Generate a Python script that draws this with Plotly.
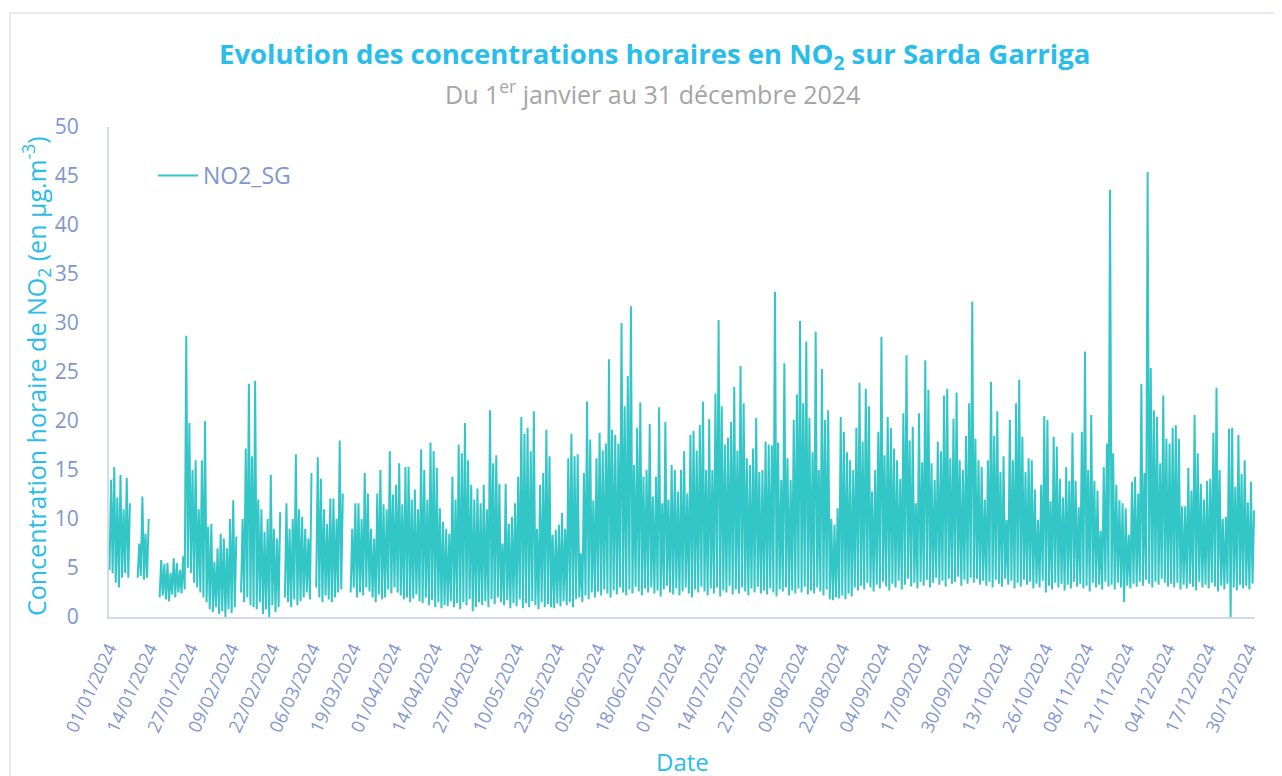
import pandas as pd
import plotly.graph_objects as go

TITLE = "Evolution des concentrations horaires en NO<sub>2</sub> sur Sarda Garriga"
SUBTITLE = "Du 1<sup>er</sup> janvier au 31 décembre 2024"
Y_TITLE = "Concentration horaire de NO<sub>2</sub> (en µg.m<sup>-3</sup>)"
X_TITLE = "Date"
SERIES_NAME = "NO2_SG"
START = "2024-01-01"
TICK_STEP_DAYS = 13
N_TICKS = 29
Y_TICKS = [0, 5, 10, 15, 20, 25, 30, 35, 40, 45, 50]

# Daily peak (max) and trough (min) of the hourly NO2 series
# (one entry per day from 01/01/2024 to 31/12/2024; None = missing data)
DAY_MAX = [
    14.0, 15.3, 12.2, 14.5, 11.0, 14.2, 11.6, None, None, 7.5,
    12.3, 8.5, 10.0, None, None, None, 5.8, 5.4, 5.5, 4.5,
    6.0, 5.5, 4.8, 6.2, 28.7, 19.8, 15.0, 16.0, 11.0, 16.0,
    20.0, 9.2, 9.5, 5.6, 7.0, 8.5, 8.0, 7.0, 10.0, 11.9,
    8.2, None, 10.0, 17.2, 23.8, 16.4, 24.1, 12.0, 11.0, 8.7,
    10.0, 14.5, 9.0, 8.0, 10.7, None, 11.6, 9.0, 10.0, 16.6,
    11.0, 10.2, 9.0, 8.0, 14.7, None, 16.3, 14.1, 11.0, 9.5,
    12.1, 12.1, 10.0, 18.0, 12.6, None, None, 9.0, 11.6, 11.6,
    10.0, 14.7, 12.6, 9.0, 8.0, 12.6, 15.0, 11.5, 11.0, 16.9,
    12.5, 13.5, 15.7, 11.5, 15.3, 15.3, 12.0, 13.0, 11.0, 17.1,
    15.0, 12.0, 17.8, 16.9, 15.2, 11.1, 9.7, 9.0, 8.5, 14.3,
    12.0, 17.6, 16.7, 19.8, 16.0, 13.5, 12.0, 13.1, 11.6, 13.5,
    11.0, 21.1, 15.7, 16.5, 13.6, 7.5, 13.6, 9.5, 10.2, 11.6,
    14.3, 20.4, 18.7, 19.3, 16.9, 21.0, 9.0, 13.5, 14.7, 19.1,
    16.4, 8.4, 8.9, 9.4, 10.6, 9.0, 16.2, 18.7, 16.4, 16.6,
    6.5, 14.7, 22.0, 18.1, 11.9, 16.2, 18.8, 17.0, 17.7, 26.3,
    19.1, 18.6, 17.7, 30.0, 21.5, 24.6, 31.7, 15.5, 19.3, 21.9,
    14.3, 15.0, 19.7, 12.3, 14.3, 21.4, 11.6, 19.9, 12.0, 15.5,
    15.0, 12.8, 15.0, 16.9, 12.6, 18.6, 19.0, 17.0, 19.6, 22.0,
    15.0, 20.2, 15.0, 22.8, 30.3, 21.5, 17.6, 18.3, 19.9, 23.5,
    17.0, 25.6, 21.8, 16.2, 15.5, 17.2, 20.3, 14.8, 15.0, 17.9,
    17.6, 17.5, 33.2, 17.8, 14.0, 25.9, 16.2, 14.0, 20.1, 22.7,
    30.2, 21.8, 28.1, 20.3, 16.8, 29.1, 15.0, 25.3, 20.1, 21.1,
    10.0, 9.4, 11.1, 20.4, 18.9, 16.8, 16.0, 15.0, 19.3, 23.9,
    17.9, 23.3, 21.5, 12.8, 15.0, 18.9, 28.6, 16.5, 20.4, 19.3,
    17.2, 16.0, 14.1, 20.8, 26.7, 18.0, 19.4, 11.6, 20.8, 15.8,
    26.2, 23.2, 15.7, 14.0, 17.9, 16.9, 22.6, 23.3, 16.2, 20.2,
    22.9, 16.0, 15.0, 18.5, 21.8, 32.2, 18.2, 16.0, 15.3, 12.0,
    16.0, 24.0, 18.5, 21.0, 14.8, 16.4, 9.9, 20.1, 16.0, 21.8,
    24.2, 18.4, 14.8, 16.2, 16.0, 13.0, 9.9, 13.5, 20.5, 20.1,
    11.8, 18.4, 17.4, 14.1, 12.2, 15.3, 13.9, 18.8, 13.9, 11.2,
    18.9, 27.1, 15.0, 20.6, 13.9, 12.9, 8.8, 15.3, 17.7, 43.6,
    16.7, 13.5, 11.9, 11.6, 11.1, 8.4, 13.8, 14.3, 12.6, 23.8,
    14.7, 45.4, 25.4, 21.1, 20.4, 15.7, 22.6, 18.2, 17.7, 19.3,
    19.6, 18.2, 11.3, 11.3, 15.2, 12.9, 20.6, 16.7, 13.6, 12.0,
    13.9, 14.1, 18.8, 23.4, 15.0, 10.0, 10.2, 19.2, 19.3, 13.3,
    18.6, 14.6, 16.0, 11.7, 13.8, 10.9,
]
DAY_MIN = [
    4.8, 4.5, 3.5, 3.0, 4.0, 4.5, 4.0, None, None, 4.0,
    4.2, 3.8, 4.0, None, None, None, 2.0, 2.2, 1.8, 1.6,
    2.3, 2.0, 2.5, 2.4, 2.8, 5.0, 4.5, 3.5, 3.0, 2.5,
    2.0, 1.5, 0.8, 0.5, 1.0, 0.3, 0.6, 0.0, 0.8, 0.4,
    1.0, None, 2.5, 1.5, 2.0, 1.2, 1.0, 0.8, 1.5, 0.3,
    0.8, 0.0, 1.2, 0.5, 1.0, None, 2.0, 1.5, 1.0, 1.8,
    1.2, 1.6, 2.0, 2.5, 1.8, None, 3.0, 2.0, 1.5, 2.2,
    1.8, 1.5, 2.0, 2.5, 2.8, None, None, 2.5, 3.0, 2.0,
    2.5, 2.2, 3.0, 2.6, 2.0, 1.5, 2.3, 1.8, 2.0, 2.8,
    2.4, 3.0, 2.5, 2.2, 1.8, 2.0, 1.5, 1.9, 2.3, 1.6,
    1.4, 2.0, 1.2, 1.7, 1.0, 1.5, 0.9, 1.2, 1.1, 1.6,
    1.0, 1.4, 0.8, 1.5, 1.2, 1.8, 0.6, 1.0, 1.5, 1.2,
    1.6, 1.0, 1.8, 1.3, 2.0, 1.5, 1.2, 1.7, 0.9, 1.4,
    1.1, 1.8, 0.9, 1.4, 1.0, 1.6, 1.2, 0.8, 1.5, 1.0,
    1.3, 1.0, 0.9, 1.4, 1.1, 1.6, 1.2, 1.5, 1.0, 1.8,
    2.0, 1.5, 2.2, 1.8, 2.5, 2.0, 2.6, 2.2, 2.8, 2.4,
    2.0, 2.7, 2.3, 3.0, 2.5, 2.2, 2.8, 2.4, 3.1, 2.6,
    2.2, 2.9, 2.5, 3.0, 2.4, 2.7, 2.1, 2.8, 3.2, 2.5,
    2.3, 2.9, 2.2, 2.6, 3.0, 2.4, 2.0, 2.8, 2.5, 3.1,
    2.6, 2.2, 2.9, 2.4, 3.0, 2.1, 2.7, 2.5, 3.2, 2.3,
    2.8, 2.4, 3.0, 2.6, 2.2, 2.9, 2.5, 3.1, 2.4, 2.7,
    2.3, 2.9, 2.5, 2.1, 2.8, 2.6, 3.0, 2.2, 2.7, 2.4,
    2.9, 2.5, 3.1, 2.3, 2.7, 2.4, 3.0, 2.6, 2.2, 2.8,
    1.8, 1.7, 2.0, 1.9, 2.2, 1.8, 2.4, 2.1, 3.0, 2.7,
    3.2, 2.8, 3.5, 3.0, 2.6, 3.3, 2.9, 3.6, 3.1, 2.7,
    3.4, 3.0, 3.7, 2.8, 3.3, 3.9, 3.1, 3.5, 2.9, 3.6,
    3.2, 3.8, 3.0, 3.5, 4.0, 3.3, 3.7, 3.1, 3.9, 3.4,
    3.6, 4.1, 3.2, 3.8, 3.4, 4.0, 3.5, 3.9, 3.3, 3.7,
    3.2, 3.6, 3.0, 3.8, 3.4, 3.1, 3.9, 3.3, 3.7, 2.9,
    3.5, 3.1, 3.8, 3.3, 3.6, 2.9, 3.4, 3.0, 3.7, 2.5,
    3.2, 2.8, 3.5, 3.0, 3.4, 2.7, 3.3, 2.9, 3.6, 3.1,
    3.4, 2.9, 3.2, 2.6, 3.5, 3.0, 3.3, 2.8, 3.6, 3.1,
    3.3, 2.8, 3.5, 3.0, 1.5, 3.2, 2.9, 3.4, 3.1, 3.6,
    3.2, 3.8, 3.4, 3.0, 3.6, 3.3, 3.9, 3.5, 3.1, 3.4,
    3.0, 3.5, 2.8, 3.3, 2.9, 3.4, 3.1, 2.7, 3.6, 3.0,
    3.3, 2.9, 3.5, 3.1, 2.6, 3.2, 2.8, 3.4, 0.0, 3.0,
    2.7, 3.3, 2.9, 3.2, 2.8, 3.4,
]

# ---------------- build series positions from the daily values ----------------
t0 = pd.Timestamp(START)
xs, ys = [], []
for d, (lo, hi) in enumerate(zip(DAY_MIN, DAY_MAX)):
    day = t0 + pd.Timedelta(days=d)
    if hi is None or lo is None:
        xs.append(day + pd.Timedelta(hours=12))
        ys.append(None)
        continue
    xs += [day + pd.Timedelta(hours=4), day + pd.Timedelta(hours=16)]
    ys += [lo, hi]

tickvals = [t0 + pd.Timedelta(days=TICK_STEP_DAYS * k) for k in range(N_TICKS)]

# ---------------- styling ----------------
FONT = "Open Sans"
TITLE_BLUE = "#29bdec"
TICK_BLUE = "#7f96cf"
GREY = "#a5a5a5"
LINE_COL = "#33c6c6"
AXIS_COL = "#d3daee"

OFF = 8                      # page body margin of the html page
W, H = 1282, 776
# plot area in page pixels: x 109..1255, y 127..617
PL, PR, PT, PB = 109, 1255, 127, 617
L = PL - OFF
R = W - (PR - OFF)
T = PT - OFF
B = H - (PB - OFF)
pw, ph = W - L - R, H - T - B


def px(x):  # page x -> paper
    return (x - PL) / pw


def py(y):  # page y -> paper
    return (PB - y) / ph


fig = go.Figure()
fig.add_trace(go.Scatter(
    x=xs, y=ys, mode="lines", name=SERIES_NAME,
    line=dict(color=LINE_COL, width=2), connectgaps=False,
    showlegend=True,
))

fig.update_layout(
    width=W, height=H,
    margin=dict(l=L, r=R, t=T, b=B, pad=0),
    paper_bgcolor="white", plot_bgcolor="white",
    font=dict(family=FONT, color=TICK_BLUE),
    showlegend=True,
    legend=dict(x=px(153), y=py(154), xanchor="left", yanchor="top",
                font=dict(size=23, color=TICK_BLUE, family=FONT),
                bgcolor="rgba(0,0,0,0)", itemwidth=40),
    xaxis=dict(
        range=[t0, t0 + pd.Timedelta(days=len(DAY_MAX)) - pd.Timedelta(hours=1)],
        tickmode="array", tickvals=tickvals,
        ticktext=[t.strftime("%d/%m/%Y") for t in tickvals],
        tickangle=-65, tickfont=dict(size=18, color=TICK_BLUE, family=FONT),
        showgrid=False, zeroline=False, showline=True, linecolor=AXIS_COL, linewidth=2,
        ticks="", ticklabelstandoff=12,
    ),
    yaxis=dict(
        range=[0, 50], tickmode="array", tickvals=Y_TICKS,
        tickfont=dict(size=21, color=TICK_BLUE, family=FONT),
        showgrid=False, zeroline=False, showline=True, linecolor=AXIS_COL, linewidth=2,
        ticks="", ticklabelstandoff=24,
    ),
    shapes=[dict(type="rect", xref="paper", yref="paper",
                 x0=px(10), x1=px(1320), y0=py(820), y1=py(13),
                 line=dict(color="#dfe3ec", width=1.5), fillcolor="rgba(0,0,0,0)",
                 layer="below")],
    annotations=[
        dict(text="<b>" + TITLE + "</b>", x=px(654), y=py(55), xref="paper", yref="paper",
             xanchor="center", yanchor="middle", showarrow=False,
             font=dict(size=27.5, color=TITLE_BLUE, family=FONT)),
        dict(text=SUBTITLE, x=px(652), y=py(92), xref="paper", yref="paper",
             xanchor="center", yanchor="middle", showarrow=False,
             font=dict(size=25, color=GREY, family=FONT)),
        dict(text=Y_TITLE, x=px(36), y=py(376), xref="paper", yref="paper",
             xanchor="center", yanchor="middle", showarrow=False, textangle=-90,
             font=dict(size=25, color=TITLE_BLUE, family=FONT)),
        dict(text=X_TITLE, x=px(682), y=py(761), xref="paper", yref="paper",
             xanchor="center", yanchor="middle", showarrow=False,
             font=dict(size=24, color=TITLE_BLUE, family=FONT)),
    ],
)

fig.write_html("out.html")
